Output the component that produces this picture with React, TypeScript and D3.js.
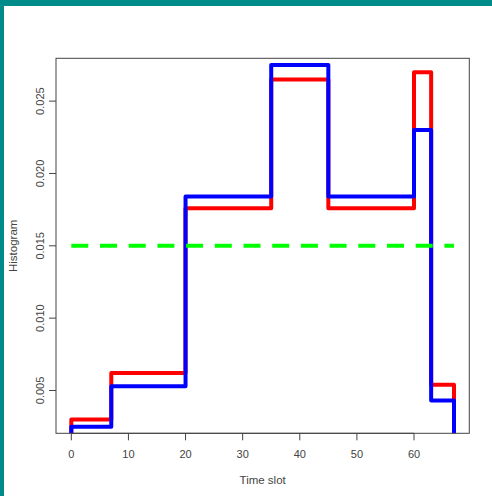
import React from 'react';
import * as d3 from 'd3';

// histogram bin edges (time slots) and densities
const breaks = [0, 7, 20, 35, 45, 60, 63, 67];
const redDensity = [0.003, 0.0062, 0.0176, 0.0265, 0.0176, 0.027, 0.0054];
const blueDensity = [0.0025, 0.0053, 0.0184, 0.0275, 0.0184, 0.023, 0.0043];
const uniformLevel = 0.015;
const xTicks = [0, 10, 20, 30, 40, 50, 60];
const yTicks = [0.005, 0.01, 0.015, 0.02, 0.025];

const width = 492;
const height = 496;
const plot = { left: 56, right: 469.3, top: 58.3, bottom: 433.3 };

// step outline of a histogram, starting and ending at zero
const stepPoints = (vals: number[]): [number, number][] => {
  const pts: [number, number][] = [[breaks[0], 0]];
  vals.forEach((v, i) => {
    pts.push([breaks[i], v]);
    pts.push([breaks[i + 1], v]);
  });
  pts.push([breaks[breaks.length - 1], 0]);
  return pts;
};

const App = () => {
  // R style 4% padding around the data range
  const xr = [breaks[0], breaks[breaks.length - 1]];
  const xPad = (xr[1] - xr[0]) * 0.04;
  const xScale = d3.scaleLinear()
    .domain([xr[0] - xPad, xr[1] + xPad])
    .range([plot.left, plot.right]);

  const yMin = d3.min(redDensity) as number;
  const yMax = d3.max(redDensity) as number;
  const yPad = (yMax - yMin) * 0.04;
  const yScale = d3.scaleLinear()
    .domain([yMin - yPad, yMax + yPad])
    .range([plot.bottom, plot.top]);

  const line = d3.line<[number, number]>()
    .x(d => xScale(d[0]))
    .y(d => yScale(d[1]));

  const font = '"Liberation Sans", Arial, sans-serif';
  const textColor = '#444';

  return (
    <svg width={width} height={height}
      style={{ position: 'fixed', left: 0, top: 0, background: '#fff' }}>
      <rect x={0} y={0} width={width} height={6} fill="#008B8B" />
      <rect x={0} y={0} width={4} height={height} fill="#008B8B" />

      <defs>
        <clipPath id="plotArea">
          <rect x={plot.left} y={plot.top}
            width={plot.right - plot.left} height={plot.bottom - plot.top} />
        </clipPath>
      </defs>

      <g clipPath="url(#plotArea)">
        <path d={line(stepPoints(redDensity)) || ''} fill="none" stroke="#FF0000"
          strokeWidth={4} strokeLinejoin="round" strokeLinecap="round" />
        <path d={line(stepPoints(blueDensity)) || ''} fill="none" stroke="#0000FF"
          strokeWidth={4} strokeLinejoin="round" strokeLinecap="round" />
        <line x1={xScale(breaks[0])} x2={xScale(breaks[breaks.length - 1])}
          y1={yScale(uniformLevel)} y2={yScale(uniformLevel)}
          stroke="#00FF00" strokeWidth={4} strokeDasharray="17 11.7" />
      </g>

      <rect x={plot.left} y={plot.top} width={plot.right - plot.left}
        height={plot.bottom - plot.top} fill="none" stroke="#444" strokeWidth={1} />

      {/* x axis */}
      <line x1={xScale(xTicks[0])} x2={xScale(xTicks[xTicks.length - 1])}
        y1={plot.bottom} y2={plot.bottom} stroke="#444" />
      {xTicks.map(t => (
        <g key={t}>
          <line x1={xScale(t)} x2={xScale(t)} y1={plot.bottom} y2={plot.bottom + 7} stroke="#444" />
          <text x={xScale(t)} y={458} textAnchor="middle" fontFamily={font}
            fontSize={11} fill={textColor}>{t}</text>
        </g>
      ))}
      <text x={(plot.left + plot.right) / 2} y={484} textAnchor="middle"
        fontFamily={font} fontSize={11.5} fill={textColor}>Time slot</text>

      {/* y axis */}
      {yTicks.map(t => (
        <g key={t}>
          <line x1={plot.left - 7} x2={plot.left} y1={yScale(t)} y2={yScale(t)} stroke="#444" />
          <text transform={`translate(44,${yScale(t)}) rotate(-90)`} textAnchor="middle"
            fontFamily={font} fontSize={11} fill={textColor}>{t.toFixed(3)}</text>
        </g>
      ))}
      <text transform={`translate(17,${(plot.top + plot.bottom) / 2}) rotate(-90)`}
        textAnchor="middle" fontFamily={font} fontSize={11.5} fill={textColor}>Histogram</text>
    </svg>
  );
};

export default App;
